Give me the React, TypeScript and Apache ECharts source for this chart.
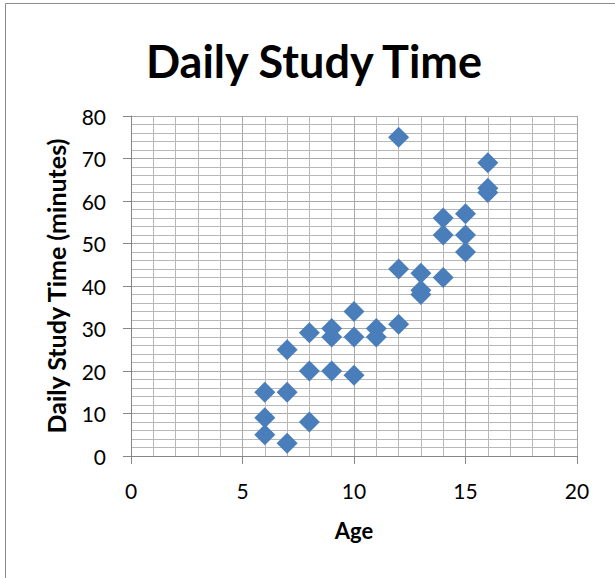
import React, { useEffect, useRef } from "react";
import * as echarts from "echarts";

const titleText = "Daily Study Time";
const xAxisName = "Age";
const yAxisName = "Daily Study Time (minutes)";
const ages = [6, 6, 6, 7, 7, 7, 8, 8, 8, 9, 9, 9, 10, 10, 10, 11, 11, 12, 12, 12, 13, 13, 13, 14, 14, 14, 15, 15, 15, 16, 16, 16];
const minutes = [15, 9, 5, 25, 15, 3, 29, 20, 8, 30, 28, 20, 34, 28, 19, 30, 28, 75, 44, 31, 43, 39, 38, 56, 52, 42, 57, 52, 48, 69, 63, 62];

const FONT = "Lato";

export default function App() {
  const ref = useRef<HTMLDivElement>(null);
  useEffect(() => {
    if (!ref.current) return;
    const chart = echarts.init(ref.current, undefined, { renderer: "svg" });
    const data = ages.map((a, i) => [a, minutes[i]]);
    chart.setOption({
      animation: false,
      backgroundColor: "#ffffff",
      title: {
        text: titleText,
        left: 309,
        textAlign: "center",
        top: 33,
        textStyle: { fontFamily: FONT, fontWeight: "bold", fontSize: 45, color: "#000" },
      },
      graphic: [
        {
          type: "rect",
          shape: { x: 5.5, y: 3.5, width: 700, height: 700 },
          style: { fill: "none", stroke: "#8c8c8c", lineWidth: 1 },
          silent: true,
        },
      ],
      grid: { left: 131, right: 38, top: 116, bottom: 122, containLabel: false },
      xAxis: {
        type: "value",
        min: 0,
        max: 20,
        interval: 5,
        name: xAxisName,
        nameLocation: "middle",
        nameGap: 63,
        nameTextStyle: { fontFamily: FONT, fontWeight: "bold", fontSize: 22, color: "#000" },
        axisLine: { show: true, lineStyle: { color: "#868686", width: 1 } },
        axisTick: { show: true, length: 8, lineStyle: { color: "#868686" } },
        axisLabel: { fontFamily: FONT, fontSize: 21, color: "#000", margin: 24 },
        splitLine: { show: true, lineStyle: { color: "#a8a8a8", width: 1 } },
        minorTick: { show: false, splitNumber: 5 },
        minorSplitLine: { show: true, lineStyle: { color: "#b8b8b8", width: 1 } },
      },
      yAxis: {
        type: "value",
        min: 0,
        max: 80,
        interval: 10,
        name: yAxisName,
        nameLocation: "middle",
        nameGap: 63,
        nameRotate: 90,
        nameTextStyle: { fontFamily: FONT, fontWeight: "bold", fontSize: 25, color: "#000" },
        axisLine: { show: true, lineStyle: { color: "#868686", width: 1 } },
        axisTick: { show: true, length: 8, lineStyle: { color: "#868686" } },
        axisLabel: { fontFamily: FONT, fontSize: 21, color: "#000", margin: 25 },
        splitLine: { show: true, lineStyle: { color: "#a8a8a8", width: 1 } },
        minorTick: { show: false, splitNumber: 5 },
        minorSplitLine: { show: true, lineStyle: { color: "#b8b8b8", width: 1 } },
      },
      series: [
        {
          type: "scatter",
          symbol: "diamond",
          symbolSize: 21,
          itemStyle: { color: "#4a7ebb", opacity: 1 },
          data,
        },
      ],
    });
    return () => chart.dispose();
  }, []);
  return (
    <div
      ref={ref}
      style={{ position: "fixed", left: 0, top: 0, width: 615, height: 578 }}
    />
  );
}
